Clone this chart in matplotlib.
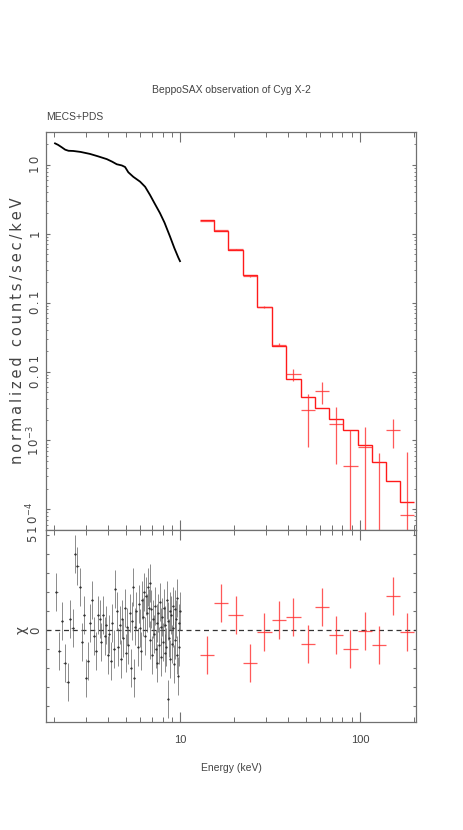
import numpy as np
import matplotlib
matplotlib.use("Agg")
import matplotlib.pyplot as plt
from matplotlib.ticker import FixedLocator, NullFormatter

# MECS folded spectrum (2-10 keV)
mecs_energy = [2.02, 2.1, 2.2, 2.3, 2.4, 2.55, 2.8, 3.16, 3.5, 3.92, 4.2, 4.45,
               4.75, 4.95, 5.16, 5.5, 6.0, 6.4, 6.81, 7.2, 7.74, 8.2, 8.8, 9.3,
               9.79, 10.0]
mecs_flux = [20.5, 19.5, 18.0, 16.6, 16.0, 15.9, 15.4, 14.4, 13.3, 12.1, 11.1, 10.2,
             9.8, 9.3, 7.8, 6.7, 5.7, 4.8, 3.66, 2.8, 1.99, 1.45, 0.91, 0.62,
             0.45, 0.40]

# MECS residuals (chi)
res_energy = [2.05, 2.13, 2.21, 2.29, 2.37, 2.45, 2.53, 2.61, 2.69, 2.77,
              2.85, 2.93, 3.01, 3.09, 3.17, 3.25, 3.33, 3.41, 3.49, 3.57,
              3.65, 3.73, 3.81, 3.89, 3.97, 4.05, 4.13, 4.21, 4.29, 4.37,
              4.45, 4.53, 4.61, 4.69, 4.77, 4.85, 4.93, 5.01, 5.09, 5.17,
              5.25, 5.33, 5.41, 5.49, 5.57, 5.65, 5.73, 5.81, 5.89, 5.97,
              6.05, 6.13, 6.21, 6.29, 6.37, 6.45, 6.53, 6.61, 6.69, 6.77,
              6.85, 6.93, 7.01, 7.09, 7.17, 7.25, 7.33, 7.41, 7.49, 7.57,
              7.65, 7.73, 7.81, 7.89, 7.97, 8.05, 8.13, 8.21, 8.29, 8.37,
              8.45, 8.53, 8.61, 8.69, 8.77, 8.85, 8.93, 9.01, 9.09, 9.17,
              9.25, 9.33, 9.41, 9.49, 9.57, 9.65, 9.73, 9.81, 9.89, 9.97]
res_chi = [2.0, -1.1, 0.5, -1.7, -2.7, 0.6, 0.1, 4.0, 3.4, 2.3,
           -0.6, 0.8, -2.5, -1.6, 0.4, 1.6, -0.3, -1.1, 0.8, 0.6,
           -0.6, 0.8, -0.3, 0.3, -1.3, -0.2, -1.6, 0.4, -1.0, 2.2,
           1.0, -0.9, 0.3, -1.5, 0.6, -0.4, 1.2, -1.2, 0.2, -0.8,
           0.9, -2.0, 0.5, 2.3, -2.5, 0.2, 1.0, -0.9, 1.4, 0.1,
           -1.1, 1.6, 0.7, 2.0, -0.3, 1.8, 0.9, 2.3, 1.2, 2.5,
           -0.5, 1.1, -1.3, 0.6, -0.2, 1.3, -1.0, 0.4, -1.7, 0.9,
           -0.8, 1.5, 0.2, -1.4, 0.7, -0.6, 1.2, -1.2, 0.3, -0.9,
           1.6, -3.6, 0.5, -0.4, 1.0, -1.5, 0.8, -0.7, 1.3, 0.1,
           -1.8, 1.1, -0.5, 0.6, -1.3, 1.7, -2.4, 0.4, -0.9, 1.0]
res_halfwidth = 0.04

# PDS bins
pds_edges = [12.9, 15.5, 18.6, 22.5, 26.9, 32.3, 38.8, 46.8, 56.0, 67.3,
             80.4, 97.1, 116.1, 139.5, 166.9, 199.5]
pds_model = [1.56, 1.11, 0.59, 0.25, 0.087, 0.0238, 0.0078, 0.00427, 0.00292,
             0.00205, 0.0014, 0.000846, 0.000485, 0.000254, 0.000126]
pds_err = [0.02, 0.015, 0.01, 0.005, 0.003, 0.0015, 0.0019, 0.002, 0.0018,
           0.0013, 0.00098, 0.00078, 0.00081, 0.00065, 0.0006]
pds_chi = [-1.28, 1.42, 0.79, -1.74, -0.07, 0.54, 0.68, -0.74, 1.24, -0.23,
           -1.0, -0.05, -0.79, 1.79, -0.07]

TS = "\u2009"
HFONT = ["Liberation Sans", "DejaVu Sans"]
TXT = "#444444"
AXC = "#707070"


def spaced(s):
    return TS.join(s)


edges = np.array(pds_edges)
centers = np.sqrt(edges[:-1] * edges[1:])
xerr = [centers - edges[:-1], edges[1:] - centers]
model = np.array(pds_model)
err = np.array(pds_err)
chi = np.array(pds_chi)
flux = model + chi * err

fig = plt.figure(figsize=(4.63, 8.30), dpi=100)
ax1 = fig.add_axes([0.0994, 0.3614, 0.7991, 0.4796])
ax2 = fig.add_axes([0.0994, 0.1301, 0.7991, 0.2313], sharex=ax1)

for ax in (ax1, ax2):
    ax.set_xscale("log")
    for sp in ax.spines.values():
        sp.set_color(AXC)
        sp.set_linewidth(0.9)
    ax.tick_params(which="both", direction="in", top=True, right=True, colors=AXC)
    ax.tick_params(axis="x", which="major", length=7, width=0.8)
    ax.tick_params(axis="x", which="minor", length=3.5, width=0.7)
    ax.xaxis.set_major_locator(FixedLocator([10, 100]))
    ax.xaxis.set_minor_locator(FixedLocator([2, 3, 4, 5, 6, 7, 8, 9, 20, 30, 40, 50,
                                             60, 70, 80, 90, 200]))
    ax.xaxis.set_minor_formatter(NullFormatter())
ax1.set_xlim(1.8, 205)

# top panel
ax1.set_yscale("log", nonpositive="clip")
ax1.set_ylim(5e-5, 30)
ax1.plot(mecs_energy, mecs_flux, color="black", lw=1.3)
ax1.stairs(model, edges, baseline=None, color="#ff1a1a", lw=1.0)
ax1.errorbar(centers, flux, xerr=xerr, yerr=err, fmt="none",
             ecolor="#ff3030", elinewidth=0.9, alpha=0.8)
ax1.yaxis.set_major_locator(FixedLocator([1e-4, 1e-3, 1e-2, 0.1, 1, 10]))
ax1.yaxis.set_minor_locator(FixedLocator(
    [m * 10.0 ** k for k in range(-5, 2) for m in range(2, 10)]))
ax1.yaxis.set_minor_formatter(NullFormatter())
ax1.set_yticklabels(["", "1" + TS + "0$^{-3}$", spaced("0.01"), spaced("0.1"),
                     "1", spaced("10")],
                    rotation=90, va="center", fontsize=8.5, color=TXT)
ax1.tick_params(axis="y", which="major", length=3, width=0.8, pad=3)
ax1.tick_params(axis="y", which="minor", length=1.6, width=0.6)
ax1.tick_params(axis="x", labelbottom=False)
ax1.text(-0.0135, 6.5e-5, spaced("510") + "$^{-4}$", transform=ax1.get_yaxis_transform(),
         rotation=90, ha="right", va="center", fontsize=8.5, color=TXT)

# bottom panel
ax2.set_ylim(-4.83, 5.28)
ax2.axhline(0, color="#333333", lw=0.9, ls=(0, (4, 3)))
ax2.errorbar(res_energy, res_chi, xerr=res_halfwidth, yerr=1.0, fmt="none",
             ecolor="0.35", elinewidth=0.7, alpha=0.7)
ax2.plot(res_energy, res_chi, ls="none", marker="s", ms=0.6, color="0.2")
ax2.errorbar(centers, chi, xerr=xerr, yerr=1.0, fmt="none",
             ecolor="#ff3030", elinewidth=0.9, alpha=0.8)
ax2.yaxis.set_major_locator(FixedLocator([-4, -3, -2, -1, 0, 1, 2, 3, 4, 5]))
ax2.set_yticklabels(["", "", "", "", "0", "", "", "", "", ""],
                    rotation=90, va="center", fontsize=8.5, color=TXT)
ax2.tick_params(axis="y", which="major", length=2, width=0.8, pad=3)
ax2.set_xticklabels(["10", "100"], family=HFONT, fontsize=8, color=TXT)
ax2.tick_params(axis="x", which="major", pad=9)

# labels
fig.text(0.499, 0.8916, "BeppoSAX observation of Cyg X-2", ha="center", va="center",
         family=HFONT, fontsize=7.5, color=TXT)
fig.text(0.0994, 0.8587, "MECS+PDS", ha="left", va="center",
         family=HFONT, fontsize=7.5, color=TXT)
fig.text(0.038, 0.6012, spaced("normalized counts/sec/keV"), rotation=90,
         ha="center", va="center", fontsize=10.5, color=TXT)
fig.text(0.0475, 0.2406, "\u03c7", rotation=90, ha="center", va="center",
         fontsize=10, color=TXT)
fig.text(0.499, 0.0747, "Energy (keV)", ha="center", va="center",
         family=HFONT, fontsize=7.5, color=TXT)

fig.savefig("out.png", dpi=100, facecolor="white")
